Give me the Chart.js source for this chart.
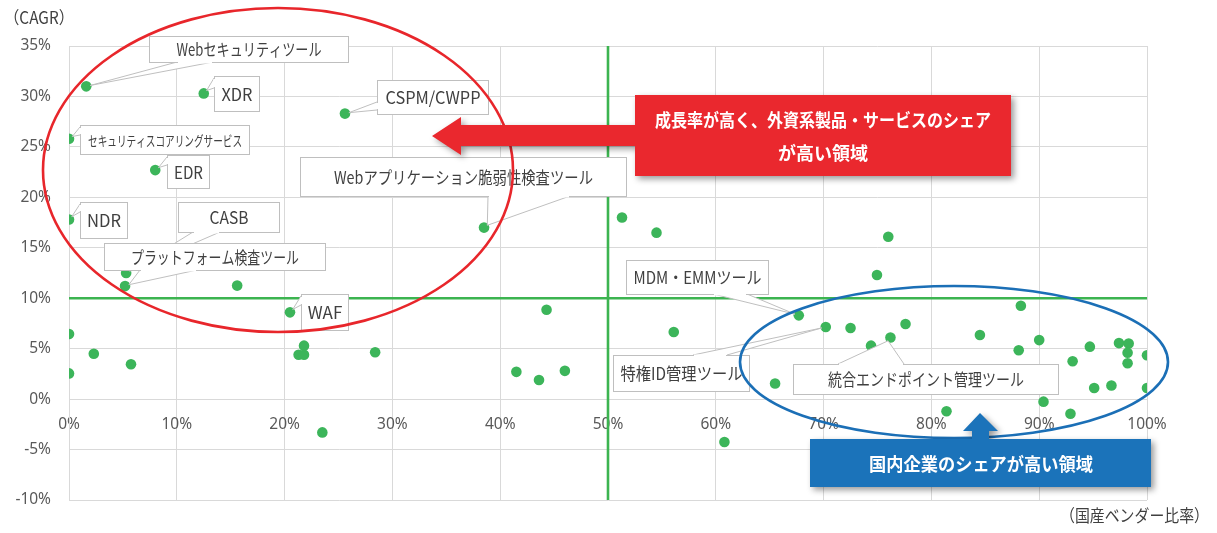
<!DOCTYPE html>
<html><head><meta charset="utf-8">
<script src="https://cdn.jsdelivr.net/npm/chart.js@4.4.1/dist/chart.umd.min.js"></script>
<style>html,body{margin:0;padding:0;background:#fff}#wrap{width:1217px;height:533px;position:relative}</style>
</head><body><div id="wrap"><canvas id="c"></canvas></div>
<script>
// ---- data ----
const xTickValues = [0,10,20,30,40,50,60,70,80,90,100];
const xTickLabels = ['0%','10%','20%','30%','40%','50%','60%','70%','80%','90%','100%'];
const yTickValues = [-10,-5,0,5,10,15,20,25,30,35];
const yTickLabels = ['-10%','-5%','0%','5%','10%','15%','20%','25%','30%','35%'];

const productNames = [
  'Webセキュリティツール','XDR','CSPM/CWPP','セキュリティスコアリングサービス','EDR','NDR',
  'Webアプリケーション脆弱性検査ツール','CASB','プラットフォーム検査ツール','WAF',
  'MDM・EMMツール','特権ID管理ツール','統合エンドポイント管理ツール',
  '','','','','','','','','','','','','','','','','','','','','','','','','','','','','','','','','','','','','','','',''
];
const domesticShare = [
  1.6,12.5,25.6,0,8.0,0,
  38.5,5.3,5.2,20.5,
  67.7,70.2,76.2,
  15.6,0,0,2.3,5.75,21.8,21.3,21.8,28.4,23.5,
  44.3,41.5,43.6,46.0,51.3,54.5,56.1,60.8,65.5,
  76.0,74.95,72.5,77.6,74.4,81.4,84.5,88.3,88.1,90.0,90.4,92.9,93.1,94.7,95.1,96.7,97.4,98.3,98.2,98.2,100,100
];
const cagr = [
  31.0,30.3,28.3,25.8,22.7,17.8,
  17.0,12.5,11.2,8.6,
  8.3,7.15,6.1,
  11.25,6.45,2.55,4.5,3.45,5.3,4.4,4.4,4.65,-3.3,
  8.85,2.7,1.9,2.8,18.0,16.5,6.65,-4.25,1.55,
  16.1,12.3,7.05,7.45,5.3,-1.2,6.35,9.25,4.85,5.85,-0.25,-1.45,3.75,5.2,1.1,1.35,5.55,5.5,4.6,3.55,4.35,1.1
];
const shareThreshold = 50;   // vertical reference line
const cagrThreshold = 10;    // horizontal reference line

const axisTitleY = '（CAGR）';
const axisTitleX = '（国産ベンダー比率）';
const redNote = ['成長率が高く、外資系製品・サービスのシェア','が高い領域'];
const blueNote = '国内企業のシェアが高い領域';

// ---- annotation layout (canvas px) ----
const JP = '"Noto Sans CJK JP", "Noto Sans", sans-serif';
const callouts = [
  {name:'Webセキュリティツール', box:[149,36,199,26], base:[[177,62],[213,62]], size:17, tw:145},
  {name:'XDR', box:[214,76,45,35], base:[[214,78],[214,88]], size:17, tw:31},
  {name:'CSPM/CWPP', box:[377,80,111,34], base:[[377,102],[377,110]], size:17, tw:95},
  {name:'セキュリティスコアリングサービス', box:[80,125,169,29], base:[[80,127],[80,135]], size:14, tw:154},
  {name:'EDR', box:[167,155,42,33], base:[[167,157],[167,165]], size:17, tw:29},
  {name:'NDR', box:[80,202,47,36], base:[[80,204],[80,212]], size:17, tw:34},
  {name:'CASB', box:[178,202,101,30], base:[[193,232],[220,232]], size:17, tw:39},
  {name:'プラットフォーム検査ツール', box:[104,243,221,27], base:[[140,270],[197,270]], size:17, tw:168},
  {name:'WAF', box:[301,294,47,36], base:[[301,296],[301,305]], size:17, tw:36},
  {name:'Webアプリケーション脆弱性検査ツール', box:[300,157,326,39], base:[[488,196],[570,196]], size:17, tw:259},
  {name:'MDM・EMMツール', box:[626,260,142,34], base:[[713,294],[747,294]], size:17, tw:128},
  {name:'特権ID管理ツール', box:[613,355,136,36], base:[[693,355],[727,355]], size:17, tw:122},
  {name:'統合エンドポイント管理ツール', box:[793,364,265,30], base:[[838,364],[904,364]], size:17, tw:196}
];

const annot = {
  id:'annot',
  afterDraw(chart){
    const ctx = chart.ctx;
    const meta = chart.getDatasetMeta(0);
    const pos = {};
    meta.data.forEach((el,i)=>{ if(productNames[i]) pos[productNames[i]] = {x:el.x, y:el.y}; });
    ctx.save();
    // callouts
    callouts.forEach(c=>{
      const p = pos[c.name]; if(!p) return;
      const [l,t,w,h] = c.box; const [b1,b2] = c.base;
      const mx=(b1[0]+b2[0])/2, my=(b1[1]+b2[1])/2;
      const d=Math.hypot(mx-p.x,my-p.y)||1;
      const tip=[p.x+(mx-p.x)/d*4, p.y+(my-p.y)/d*4];
      ctx.fillStyle='#fff'; ctx.strokeStyle='#bfbfbf'; ctx.lineWidth=1;
      ctx.beginPath(); ctx.moveTo(b1[0],b1[1]); ctx.lineTo(tip[0],tip[1]); ctx.lineTo(b2[0],b2[1]); ctx.closePath(); ctx.fill();
      ctx.beginPath(); ctx.moveTo(b1[0],b1[1]); ctx.lineTo(tip[0],tip[1]); ctx.lineTo(b2[0],b2[1]); ctx.stroke();
      ctx.fillRect(l,t,w,h);
      ctx.strokeRect(l+0.5,t+0.5,w,h);
      // open the base of the wedge
      ctx.strokeStyle='#fff'; ctx.lineWidth=2;
      ctx.beginPath();
      if(b1[0]===b2[0]){ ctx.moveTo(b1[0]+0.5,b1[1]+1); ctx.lineTo(b2[0]+0.5,b2[1]-1); }
      else { ctx.moveTo(b1[0]+1,b1[1]+0.5); ctx.lineTo(b2[0]-1,b2[1]+0.5); }
      ctx.stroke();
      ctx.fillStyle='#404040'; ctx.font=c.size+'px '+JP; ctx.textAlign='center'; ctx.textBaseline='middle';
      ctx.fillText(c.name, l+w/2+0.5, t+h/2+1, c.tw);
    });
    // ellipses
    ctx.lineWidth=2.6;
    ctx.strokeStyle='#e8262b';
    ctx.beginPath(); ctx.ellipse(278,170,235,162,0,0,Math.PI*2); ctx.stroke();
    ctx.strokeStyle='#1b6fb6';
    ctx.beginPath(); ctx.ellipse(954,362,214,76,0,0,Math.PI*2); ctx.stroke();
    // arrow callouts
    ctx.save();
    ctx.shadowColor='rgba(0,0,0,0.4)'; ctx.shadowBlur=6; ctx.shadowOffsetX=3; ctx.shadowOffsetY=3;
    ctx.fillStyle='#ea282e';
    ctx.beginPath();
    ctx.moveTo(432,136); ctx.lineTo(461,117); ctx.lineTo(461,125); ctx.lineTo(635,125); ctx.lineTo(635,95);
    ctx.lineTo(1011,95); ctx.lineTo(1011,176); ctx.lineTo(635,176); ctx.lineTo(635,146); ctx.lineTo(461,146);
    ctx.lineTo(461,155); ctx.closePath(); ctx.fill();
    ctx.fillStyle='#1b73ba';
    ctx.beginPath();
    ctx.moveTo(980,413); ctx.lineTo(998,431); ctx.lineTo(989,431); ctx.lineTo(989,439); ctx.lineTo(1151,439);
    ctx.lineTo(1151,487); ctx.lineTo(810,487); ctx.lineTo(810,439); ctx.lineTo(972,439); ctx.lineTo(972,431);
    ctx.lineTo(963,431); ctx.closePath(); ctx.fill();
    ctx.restore();
    ctx.fillStyle='#fff'; ctx.textAlign='center'; ctx.textBaseline='middle';
    ctx.font='bold 18px '+JP;
    ctx.fillText(redNote[0], 823, 120, 336);
    ctx.fillText(redNote[1], 823, 153, 92);
    ctx.fillText(blueNote, 981, 464, 224);
    // axis titles
    ctx.fillStyle='#404040'; ctx.font='17px '+JP;
    ctx.textAlign='left'; ctx.fillText(axisTitleY, 4, 18, 70);
    ctx.textAlign='right'; ctx.fillText(axisTitleX, 1209, 516, 149);
    ctx.restore();
  }
};

const tickFont = {family:'"Noto Sans", "Noto Sans CJK JP", sans-serif', size:15.5};
new Chart(document.getElementById('c'), {
  data:{
    datasets:[
      {type:'scatter', order:0, data: domesticShare.map((x,i)=>({x, y:cagr[i]})),
       backgroundColor:'#3cb55a', borderWidth:0, pointRadius:5.3, pointHoverRadius:5.3},
      {type:'line', order:1, data:[{x:shareThreshold,y:yTickValues[0]},{x:shareThreshold,y:yTickValues[yTickValues.length-1]}],
       borderColor:'#3cb450', borderWidth:2.6, pointRadius:0, fill:false},
      {type:'line', order:1, data:[{x:xTickValues[0],y:cagrThreshold},{x:xTickValues[xTickValues.length-1],y:cagrThreshold}],
       borderColor:'#3cb450', borderWidth:2.6, pointRadius:0, fill:false}
    ]
  },
  options:{
    responsive:true, maintainAspectRatio:false, animation:false, devicePixelRatio:1,
    layout:{padding:{left:0,top:46,right:70,bottom:33}},
    plugins:{legend:{display:false}, tooltip:{enabled:false}},
    events:[],
    scales:{
      x:{type:'linear', min:0, max:100, position:{y:0},
         afterBuildTicks:s=>{ s.ticks = xTickValues.map(v=>({value:v})); },
         ticks:{padding:16.5, color:'#595959', font:tickFont, maxRotation:0, autoSkip:false,
                callback:(v,i)=>xTickLabels[i]},
         grid:{color:'#d9d9d9', lineWidth:1, drawTicks:false},
         border:{display:true, color:'#d9d9d9'}},
      y:{type:'linear', min:-10, max:35,
         afterBuildTicks:s=>{ s.ticks = yTickValues.map(v=>({value:v})); },
         afterFit:s=>{ s.width = 69; },
         ticks:{padding:18, color:'#595959', font:tickFont, autoSkip:false,
                callback:(v,i)=>yTickLabels[i]},
         grid:{color:'#d9d9d9', lineWidth:1, drawTicks:false},
         border:{display:true, color:'#d9d9d9'}}
    }
  },
  plugins:[annot]
});
</script></body></html>
